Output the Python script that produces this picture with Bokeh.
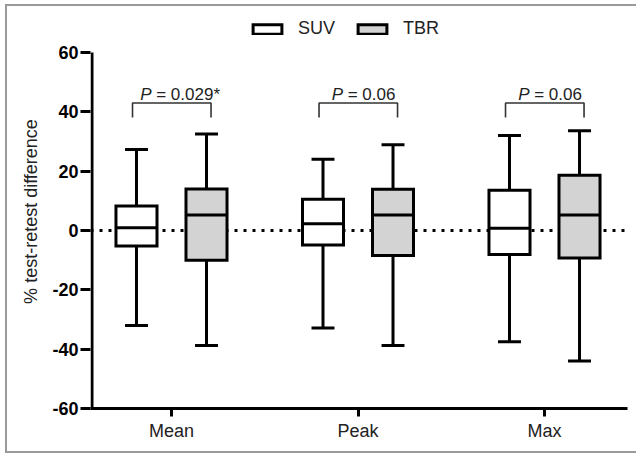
from bokeh.plotting import figure
from bokeh.models import (Range1d, FixedTicker, Span, Legend, LegendItem,
                          ColumnDataSource)
from bokeh.core.properties import value
from bokeh.embed import file_html
from bokeh.resources import INLINE

# ---------------- data ----------------
categories = ["Mean", "Peak", "Max"]
suv_max = [27.3, 24.0, 32.0]
suv_q3 = [8.3, 10.5, 13.6]
suv_med = [0.9, 2.3, 0.8]
suv_q1 = [-5.2, -4.9, -8.1]
suv_min = [-32.0, -32.9, -37.5]
tbr_max = [32.5, 28.9, 33.6]
tbr_q3 = [14.0, 13.9, 18.6]
tbr_med = [5.2, 5.2, 5.2]
tbr_q1 = [-10.0, -8.4, -9.3]
tbr_min = [-38.8, -38.8, -44.0]
p_values = ["0.029*", "0.06", "0.06"]
y_ticks = [-60, -40, -20, 0, 20, 40, 60]

# ---------------- style ----------------
FONT = "Liberation Sans"
OFF = 0.1877        # group offset (x units)
BOX_W = 0.22
CAP_W = 0.123
BR_L, BR_R = -0.209, 0.212
BR_TOP, BR_BOT = 43.0, 38.1
P_BASE = 45.8
split_px = [-20, -15, -15]
GRAY = "#d3d3d3"

Y_MIN, Y_MAX = min(y_ticks), max(y_ticks)
Y_TOP = 72.81          # frame extends above the axis so the legend fits inside
X0, X1 = -0.4343, 2.445

p = figure(width=636, height=454, output_backend="svg", toolbar_location=None,
           x_range=Range1d(X0, X1), y_range=Range1d(Y_MIN, Y_TOP),
           min_border_left=90, min_border_right=9, min_border_top=14,
           min_border_bottom=46, background_fill_color="white",
           border_fill_alpha=0)
p.outline_line_color = None
p.xgrid.visible = False
p.ygrid.visible = False

# outer grey frame: drawn as the figure element's CSS background
B = "#9a9a9a"
p.styles = {
    "background-color": "white",
    "background-image": ", ".join([f"linear-gradient({B}, {B})"] * 3),
    "background-position": "5px 4px, 5px 4px, 5px 451px",
    "background-size": "2px 449px, 640px 2px, 640px 2px",
    "background-repeat": "no-repeat",
}

# zero dotted line
p.add_layout(Span(location=0, dimension="width", line_color="black",
                  line_width=3, line_dash="3 6", level="underlay"))

# y axis line only over the tick span (-60..60)
p.segment(x0=[X0 + 0.008], y0=[Y_MIN], x1=[X0 + 0.008], y1=[Y_MAX],
          line_color="black", line_width=3)

idx = list(range(len(categories)))
legend_items = []
for name, mx, q3, md, q1, mn, sign, fill in [
        ("SUV", suv_max, suv_q3, suv_med, suv_q1, suv_min, -1, "white"),
        ("TBR", tbr_max, tbr_q3, tbr_med, tbr_q1, tbr_min, 1, GRAY)]:
    xs = [i + sign * OFF for i in idx]
    p.segment(x0=xs, y0=q3, x1=xs, y1=mx, line_color="black", line_width=3)
    p.segment(x0=xs, y0=q1, x1=xs, y1=mn, line_color="black", line_width=3)
    p.segment(x0=[x - CAP_W / 2 for x in xs], y0=mx,
              x1=[x + CAP_W / 2 for x in xs], y1=mx, line_color="black", line_width=3)
    p.segment(x0=[x - CAP_W / 2 for x in xs], y0=mn,
              x1=[x + CAP_W / 2 for x in xs], y1=mn, line_color="black", line_width=3)
    r = p.vbar(x=xs, top=q3, bottom=q1, width=BOX_W, fill_color=fill,
               line_color="black", line_width=3, line_join="miter")
    p.segment(x0=[x - BOX_W / 2 for x in xs], y0=md,
              x1=[x + BOX_W / 2 for x in xs], y1=md, line_color="black", line_width=3)
    legend_items.append(LegendItem(label=name, renderers=[r]))

# brackets
p.multi_line(xs=[[i + BR_L, i + BR_L, i + BR_R, i + BR_R] for i in idx],
             ys=[[BR_BOT, BR_TOP, BR_TOP, BR_BOT] for _ in idx],
             line_color="#333333", line_width=1.6)

# P-value labels
src = ColumnDataSource(dict(x=idx, y=[P_BASE] * len(idx),
                            p=["P"] * len(idx),
                            rest=["= " + v for v in p_values],
                            off1=split_px,
                            off2=[s + 4.7 for s in split_px]))
p.text(x="x", y="y", text="p", source=src, x_offset="off1", text_align="right",
       text_baseline="alphabetic", text_font=value(FONT), text_font_size="17px",
       text_font_style="italic", text_color="#222222")
p.text(x="x", y="y", text="rest", source=src, x_offset="off2", text_align="left",
       text_baseline="alphabetic", text_font=value(FONT), text_font_size="17px",
       text_color="#222222")

# legend (inside the frame, above the axis top)
legend = Legend(items=legend_items, orientation="horizontal",
                location=(159, 369), glyph_width=36, glyph_height=12,
                label_standoff=13, spacing=19, padding=0, margin=0,
                border_line_color=None, background_fill_alpha=0,
                label_text_font=FONT, label_text_font_size="18px",
                label_text_color="#222222")
p.add_layout(legend, "center")

# axes
yax = p.yaxis[0]
yax.ticker = FixedTicker(ticks=y_ticks)
yax.major_label_overrides = {t: str(t) for t in y_ticks}
yax.axis_label = "% test-retest difference"
yax.axis_label_text_font = FONT
yax.axis_label_text_font_size = "18px"
yax.axis_label_text_font_style = "normal"
yax.axis_label_text_color = "#222222"
yax.axis_label_standoff = 8
yax.major_label_text_font = FONT
yax.major_label_text_font_size = "18px"
yax.major_label_text_font_style = "bold"
yax.major_label_text_color = "black"
yax.major_label_standoff = 2
yax.major_tick_out = 10
yax.major_tick_in = 0
yax.minor_tick_out = 0
yax.minor_tick_in = 0
yax.axis_line_color = None
yax.major_tick_line_width = 3
yax.major_tick_line_color = "black"

xax = p.xaxis[0]
xax.ticker = FixedTicker(ticks=idx)
xax.major_label_overrides = {i: c for i, c in zip(idx, categories)}
xax.major_label_text_font = FONT
xax.major_label_text_font_size = "18px"
xax.major_label_text_color = "#222222"
xax.major_label_standoff = 4
xax.major_tick_out = 8
xax.major_tick_in = 0
xax.minor_tick_out = 0
xax.minor_tick_in = 0
xax.axis_line_width = 3
xax.major_tick_line_width = 3
xax.axis_line_color = "black"
xax.major_tick_line_color = "black"

open("out.html", "w").write(file_html(p, INLINE))
